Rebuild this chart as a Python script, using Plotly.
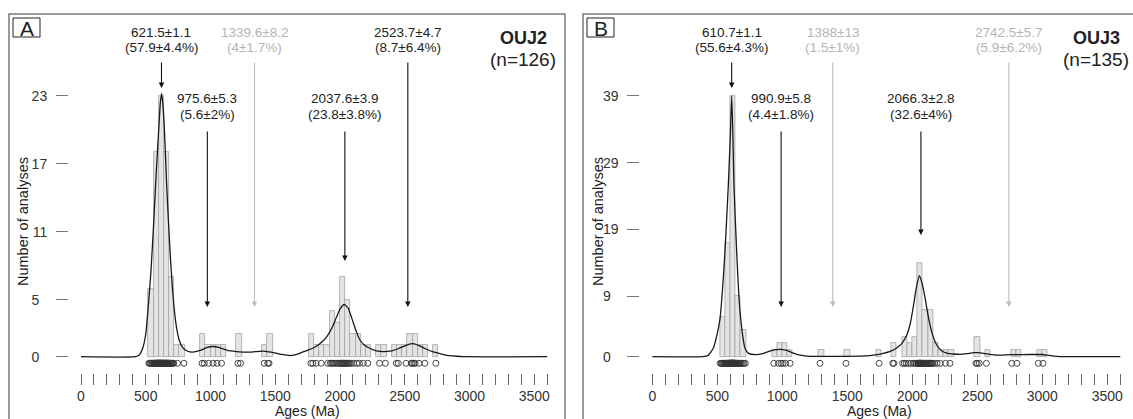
import plotly.graph_objects as go

# ---------------- data ----------------
ages_A = [
    524, 531, 538, 545, 550, 556,
    562, 564, 567, 570, 573, 576, 579, 581, 583, 585, 587, 589, 591, 593, 595, 596, 598, 599,
    601, 602, 604, 605, 607, 608, 610, 612, 613, 615, 617, 618, 620, 621, 623, 625, 627, 629,
    631, 633, 635, 637, 639,
    641, 643, 645, 647, 649, 651, 653, 655, 657, 659, 661, 663, 666, 669, 672, 675, 677, 679,
    683, 688, 693, 698, 704, 710, 716,
    745, 795,
    935, 952, 985, 1020, 1050, 1085,
    1212, 1232, 1415, 1442, 1452,
    1775, 1790, 1815, 1855, 1905, 1925, 1935, 1945, 1955, 1968, 1980, 1992,
    2003, 2008, 2014, 2020, 2026, 2031, 2037, 2045, 2052, 2060, 2068, 2075,
    2088, 2105, 2130, 2150, 2180, 2215,
    2305, 2350, 2435, 2450, 2510, 2550, 2558, 2570, 2580, 2610, 2655, 2740,
]

ages_B = [
    522, 530, 537, 544, 550, 556,
    562, 565, 568, 571, 574, 577, 580, 583, 585, 587, 589, 591, 593, 595, 597, 598, 599,
    601, 602, 603, 604, 605, 606, 607, 608, 609, 610, 611, 611, 612, 613, 614, 615, 616, 617,
    618, 619, 620, 621, 622, 623, 624, 625, 626, 627, 628, 629, 630, 631, 632, 633, 634, 635,
    636, 637, 638,
    642, 646, 650, 654, 658, 662, 667, 672, 677,
    685, 695, 705, 716,
    935, 970, 990, 1005, 1025, 1060,
    1290, 1490,
    1745, 1850, 1858, 1925, 1938, 1952, 1970, 1988, 2008, 2020, 2032,
    2042, 2045, 2048, 2050, 2053, 2056, 2058, 2061, 2064, 2066, 2069, 2072, 2075, 2078,
    2083, 2088, 2094, 2100, 2105, 2110, 2116,
    2123, 2128, 2134, 2140, 2146, 2151, 2157,
    2170, 2190, 2215, 2255, 2290,
    2490, 2500, 2515, 2570, 2765, 2805, 2970, 3005,
]

kde_A_x = [0, 420, 450, 475, 500, 520, 540, 560, 580, 600, 612, 622, 632, 645, 660, 675, 690,
           705, 720, 740, 760, 785, 820, 860, 920, 970, 1020, 1070, 1130, 1200, 1300, 1400,
           1470, 1550, 1614, 1680, 1720, 1780, 1820, 1860, 1900, 1940, 1970, 2000, 2033, 2064,
           2085, 2105, 2130, 2155, 2190, 2232, 2280, 2334, 2400, 2450, 2515, 2565, 2610, 2660,
           2720, 2780, 2830, 2900, 2950, 3600]
kde_A_y = [0, 0, 0.15, 0.7, 2.0, 4.5, 7.5, 11.5, 16, 20, 22.3, 23.2, 22.3, 19.8, 15.5, 12, 8.8,
           6.2, 4.2, 2.4, 1.4, 0.8, 0.5, 0.4, 0.55, 0.8, 0.9, 0.8, 0.55, 0.45, 0.4, 0.5,
           0.4, 0.2, 0.1, 0.25, 0.45, 0.7, 0.95, 1.3, 1.8, 2.6, 3.4, 4.2, 4.6, 4.25,
           3.6, 2.9, 2.1, 1.45, 1.0, 0.72, 0.52, 0.45, 0.52, 0.7, 1.03, 1.15, 0.98, 0.7,
           0.42, 0.25, 0.12, 0.04, 0, 0]

kde_B_x = [0, 390, 430, 469, 500, 521, 540, 559, 585, 600, 611, 620, 628, 649, 662, 675, 695,
           713, 740, 790, 850, 905, 950, 995, 1040, 1085, 1140, 1213, 1400, 1600, 1674, 1730,
           1777, 1830, 1880, 1920, 1957, 1985, 2008, 2030, 2054, 2075, 2098, 2118, 2136, 2160,
           2188, 2225, 2265, 2320, 2367, 2420, 2470, 2510, 2546, 2600, 2649, 2700, 2752, 2850,
           2957, 3000, 3034, 3090, 3136, 3200, 3600]
kde_B_y = [0, 0, 0.2, 1.25, 3.5, 5.7, 10, 15.7, 25.7, 33, 39, 33, 25.7, 15.7, 10.5, 6.7, 3.2,
           1.25, 0.5, 0.3, 0.45, 0.85, 1.05, 1.1, 0.9, 0.55, 0.22, 0.05, 0.05, 0.08, 0.15, 0.3,
           0.5, 0.8, 1.3, 2.0, 3.2, 5.0, 7.5, 10.2, 12.1, 11, 8.8, 6.5, 4.8, 3.0,
           1.75, 0.9, 0.55, 0.4, 0.35, 0.45, 0.6, 0.6, 0.5, 0.35, 0.25, 0.25, 0.3, 0.3,
           0.35, 0.33, 0.25, 0.1, 0.02, 0, 0]

yticks_A = [0, 5, 11, 17, 23]
yticks_B = [0, 9, 19, 29, 39]
xticks = [0, 500, 1000, 1500, 2000, 2500, 3000, 3500]

# peak labels: age, line1, line2, highlighted
peaks_A = [
    (621.5, "621.5±1.1", "(57.9±4.4%)", True),
    (975.6, "975.6±5.3", "(5.6±2%)", True),
    (1339.6, "1339.6±8.2", "(4±1.7%)", False),
    (2037.6, "2037.6±3.9", "(23.8±3.8%)", True),
    (2523.7, "2523.7±4.7", "(8.7±6.4%)", True),
]
peaks_B = [
    (610.7, "610.7±1.1", "(55.6±4.3%)", True),
    (990.9, "990.9±5.8", "(4.4±1.8%)", True),
    (1388, "1388±13", "(1.5±1%)", False),
    (2066.3, "2066.3±2.8", "(32.6±4%)", True),
    (2742.5, "2742.5±5.7", "(5.9±6.2%)", False),
]
# label layout per peak (level, arrow tip pixel y)
layout_A = [("top", 88), ("mid", 307), ("top", 307), ("mid", 261), ("top", 307)]
layout_B = [("top", 88), ("mid", 307), ("top", 307), ("mid", 235), ("top", 307)]

samples = ["OUJ2", "OUJ3"]
counts_n = [126, 135]
panel_letters = ["A", "B"]

# ---------------- figure ----------------
W, H = 1133, 419
FONT = "Liberation Sans, Arial, sans-serif"
DARK = "#222222"
GREY = "#b5b5b5"

fig = go.Figure()

panels = [
    dict(x0=81.0, pxm=0.1295, left=69.0, right=556.0, y0=356.7, pyu=11.35,
         border=(9, 565), ages=ages_A, kx=kde_A_x, ky=kde_A_y, yt=yticks_A,
         peaks=peaks_A, lay=layout_A, xa="x", ya="y", rug=-0.58),
    dict(x0=652.3, pxm=0.130, left=640.3, right=1128.0, y0=356.7, pyu=6.69,
         border=(583, 1145), ages=ages_B, kx=kde_B_x, ky=kde_B_y, yt=yticks_B,
         peaks=peaks_B, lay=layout_B, xa="x2", ya="y2", rug=-0.99),
]
TOP, BOT = 14.0, 373.0


def dom(py):
    return (BOT - py) / (BOT - TOP)


def paper_text(px, py, text, size, color=DARK, angle=0):
    return dict(x=px / W, y=1 - py / H, xref="paper", yref="paper", text=text,
                showarrow=False, xanchor="center", yanchor="middle", textangle=angle,
                font=dict(family=FONT, size=size, color=color))


annotations = []
shapes = []

for i, p in enumerate(panels):
    xa, ya = p["xa"], p["ya"]
    fig.add_trace(go.Histogram(
        x=p["ages"], xbins=dict(start=0, end=3600, size=40),
        marker=dict(color="#e4e4e4", line=dict(color="#a3a3a3", width=0.8)),
        xaxis=xa, yaxis=ya, hoverinfo="skip"))
    fig.add_trace(go.Scatter(
        x=p["kx"], y=p["ky"], mode="lines",
        line=dict(color="#1a1a1a", width=1.3, shape="spline", smoothing=0.5),
        xaxis=xa, yaxis=ya, hoverinfo="skip"))
    fig.add_trace(go.Scatter(
        x=p["ages"], y=[p["rug"]] * len(p["ages"]), mode="markers",
        marker=dict(symbol="circle-open", size=6, color="#333333", line=dict(width=0.9)),
        xaxis=xa, yaxis=ya, hoverinfo="skip"))

    xr = [(p["left"] - p["x0"]) / p["pxm"], (p["right"] - p["x0"]) / p["pxm"]]
    yr = [(p["y0"] - BOT) / p["pyu"], (p["y0"] - TOP) / p["pyu"]]
    xkey = "xaxis" if i == 0 else "xaxis2"
    ykey = "yaxis" if i == 0 else "yaxis2"
    fig.layout[xkey] = dict(
        domain=[p["left"] / W, p["right"] / W], range=xr, anchor=ya,
        showgrid=False, zeroline=False, showline=False,
        tickmode="array", tickvals=xticks, ticktext=[str(v) for v in xticks],
        ticks="outside", ticklen=11, tickcolor="#666666", tickwidth=1,
        minor=dict(tickmode="linear", tick0=0, dtick=100, ticks="outside", ticklen=11,
                   tickcolor="#666666", tickwidth=1),
        tickfont=dict(family=FONT, size=14, color="#333333"), ticklabelstandoff=-1)
    fig.layout[ykey] = dict(
        domain=[1 - BOT / H, 1 - TOP / H], range=yr, anchor=xa,
        showgrid=False, zeroline=False, showline=False,
        tickmode="array", tickvals=p["yt"],
        ticktext=[str(v).ljust(2, "\u2007") for v in p["yt"]],
        ticks="outside", ticklen=12, tickcolor="#777777", tickwidth=1,
        tickfont=dict(family=FONT, size=14, color="#333333"), ticklabelstandoff=6)

    for (age, l1, l2, hi), (lvl, tip) in zip(p["peaks"], p["lay"]):
        col = DARK if hi else GREY
        acol = "#111111" if hi else "#bdbdbd"
        ys = (32, 47, 61) if lvl == "top" else (98, 114, 130)
        for txt, py in ((l1, ys[0]), (l2, ys[1])):
            annotations.append(dict(
                x=age, y=dom(py), xref=xa, yref=ya + " domain", text=txt,
                showarrow=False, xanchor="center", yanchor="middle",
                font=dict(family=FONT, size=13.5, color=col)))
        annotations.append(dict(
            x=age, y=dom(tip), xref=xa, yref=ya + " domain", text="",
            showarrow=True, ax=0, ay=-(tip - ys[2]), axref="pixel", ayref="pixel",
            arrowhead=2, arrowsize=1.0, arrowwidth=1.1, arrowcolor=acol, standoff=0))

    cx = 523 if i == 0 else 1096
    annotations.append(paper_text(cx, 38.5, "<b>%s</b>" % samples[i], 18))
    annotations.append(paper_text(cx, 60, "(n=%d)" % counts_n[i], 19))
    tx = 22.5 if i == 0 else 597.5
    annotations.append(paper_text(tx, 221.5, "Number of analyses", 14.5, angle=-90))
    annotations.append(paper_text(p["x0"] + 1750 * p["pxm"], 411, "Ages (Ma)", 14))

    b0, b1 = p["border"]
    shapes.append(dict(type="rect", xref="paper", yref="paper",
                       x0=b0 / W, x1=b1 / W, y0=1 - 440 / H, y1=1 - 14 / H,
                       line=dict(color="#7a7a7a", width=1.5)))
    lx0 = b0 + 4
    shapes.append(dict(type="rect", xref="paper", yref="paper",
                       x0=lx0 / W, x1=(lx0 + 27) / W, y0=1 - 37 / H, y1=1 - 18 / H,
                       line=dict(color="#222222", width=1)))
    annotations.append(paper_text(lx0 + 13.5, 28, panel_letters[i], 21))

fig.update_layout(
    width=W, height=H, margin=dict(l=0, r=0, t=0, b=0),
    paper_bgcolor="white", plot_bgcolor="white", showlegend=False,
    bargap=0, barmode="overlay", annotations=annotations, shapes=shapes)

fig.write_html("out.html", config={"displayModeBar": False},
               post_script="document.body.style.margin='0';document.body.style.padding='0';")
